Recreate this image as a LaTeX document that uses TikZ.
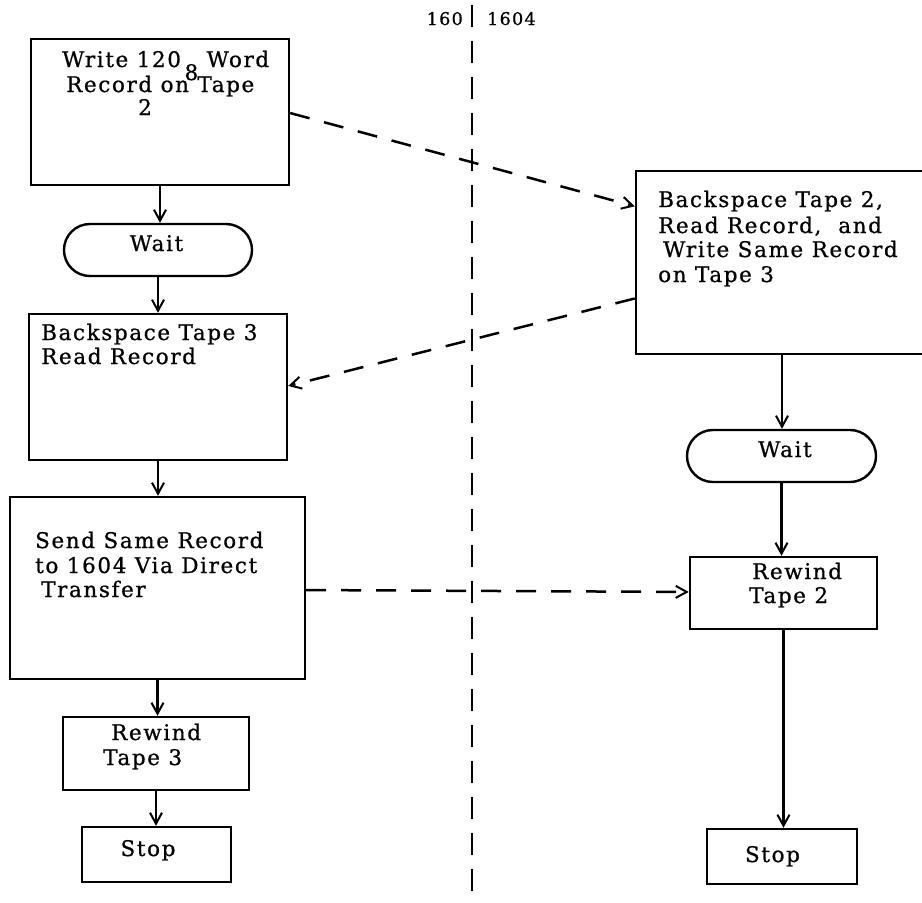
\documentclass[tikz,border=0pt]{standalone}
\usepackage{fontspec}
\setmainfont{DejaVu Serif}[LetterSpace=7.5,FakeBold=0.8]
\usetikzlibrary{arrows.meta,calc}
\begin{document}
\begin{tikzpicture}[x=1pt,y=-1pt,
  box/.style={draw,line width=2.4pt,rectangle,inner sep=0pt},
  term/.style={box,rounded corners=25.9pt},
  txt/.style={anchor=base west,inner sep=0pt,font=\fontsize{21.5}{25}\selectfont,align=left},
  ctxt/.style={txt,anchor=base},
  lab/.style={inner sep=0pt,font=\fontsize{17.5}{20}\selectfont},
  tip/.style={-{Straight Barb[length=11pt,width=12pt,line width=2pt]}},
  flow/.style={line width=2.3pt,tip},
  link/.style={line width=2.5pt,dash pattern=on 20pt off 15pt,tip},
]
\useasboundingbox (0,0) rectangle (922,903);

% left column (160)
\node[box,minimum width=258pt,minimum height=146pt] (b1) at (160,112) {};
\node[term,minimum width=188pt,minimum height=52pt] (w1) at (158,250) {};
\node[box,minimum width=258pt,minimum height=146pt] (b2) at (158,387) {};
\node[box,minimum width=295pt,minimum height=182pt] (b3) at (157.5,588) {};
\node[box,minimum width=186pt,minimum height=73pt] (b4) at (156,753.5) {};
\node[box,minimum width=149pt,minimum height=55pt] (s1) at (156.5,854.5) {};

% right column (1604)
\node[box,minimum width=292pt,minimum height=183pt] (r1) at (782,262.5) {};
\node[term,minimum width=189pt,minimum height=52pt] (w2) at (781.5,456) {};
\node[box,minimum width=187pt,minimum height=72pt] (r2) at (783.5,593) {};
\node[box,minimum width=150pt,minimum height=55pt] (s2) at (782,856.5) {};

% texts (anchored at the baseline of their last line)
\node[txt] (t1) at (62,115) {Write 120\,\smash{\raisebox{-13pt}{8}} Word\\\hspace*{4pt}Record on Tape\\[-2pt]\hspace*{76pt}2};
\node[ctxt] (tw1) at (156.5,251) {Wait};
\node[txt] (t2) at (41,364) {Backspace Tape 3\\[-1pt]Read Record};
\node[txt] (t3) at (35,597) {Send Same Record\\to 1604 Via Direct\\[-1pt]\hspace*{6pt}Transfer};
\node[txt] (t4) at (111,765) {Rewind\\\hspace*{-8pt}Tape 3};
\node[ctxt] (ts1) at (148,856) {Stop};
\node[txt] (tr1) at (658,282) {Backspace Tape 2,\\[1pt]Read Record,~ and\\[-1pt]\hspace*{5pt}Write Same Record\\on Tape 3};
\node[ctxt] (tw2) at (785,457) {Wait};
\node[txt] (tr2) at (752,603) {Rewind\\[-1pt]\hspace*{-3pt}Tape 2};
\node[ctxt] (ts2) at (772.5,862) {Stop};

% divider and headings
\coordinate (dtop) at (472,5);
\coordinate (dbot) at (472,906);
\draw[line width=2.6pt,dash pattern=on 22pt off 14pt] (dtop) -- (dbot);
\node[lab,anchor=base east] (l160) at (463,25) {160};
\node[lab,anchor=base west] (l1604) at (487,25) {1604};

% flow arrows
\draw[flow] (b1.south) -- (b1.south |- w1.north);
\draw[flow] (w1.south) -- (w1.south |- b2.north);
\draw[flow] (b2.south) -- (b2.south |- b3.north);
\draw[flow] (b3.south) -- (b3.south |- b4.north);
\draw[flow] (b4.south) -- (b4.south |- s1.north);
\draw[flow] (r1.south) -- (r1.south |- w2.north);
\draw[flow] (w2.south) -- (w2.south |- r2.north);
\draw[flow] (r2.south) -- (r2.south |- s2.north);

% cross links
\draw[link] ($(b1.north east)!0.507!(b1.south east)$) -- ($(r1.north west)!0.197!(r1.south west)$);
\draw[link] ($(r1.north west)!0.694!(r1.south west)$) -- ($(b2.north east)!0.493!(b2.south east)$);
\draw[link] ($(b3.north east)!0.511!(b3.south east)$) -- ($(r2.north west)!0.486!(r2.south west)$);
\end{tikzpicture}
\end{document}
